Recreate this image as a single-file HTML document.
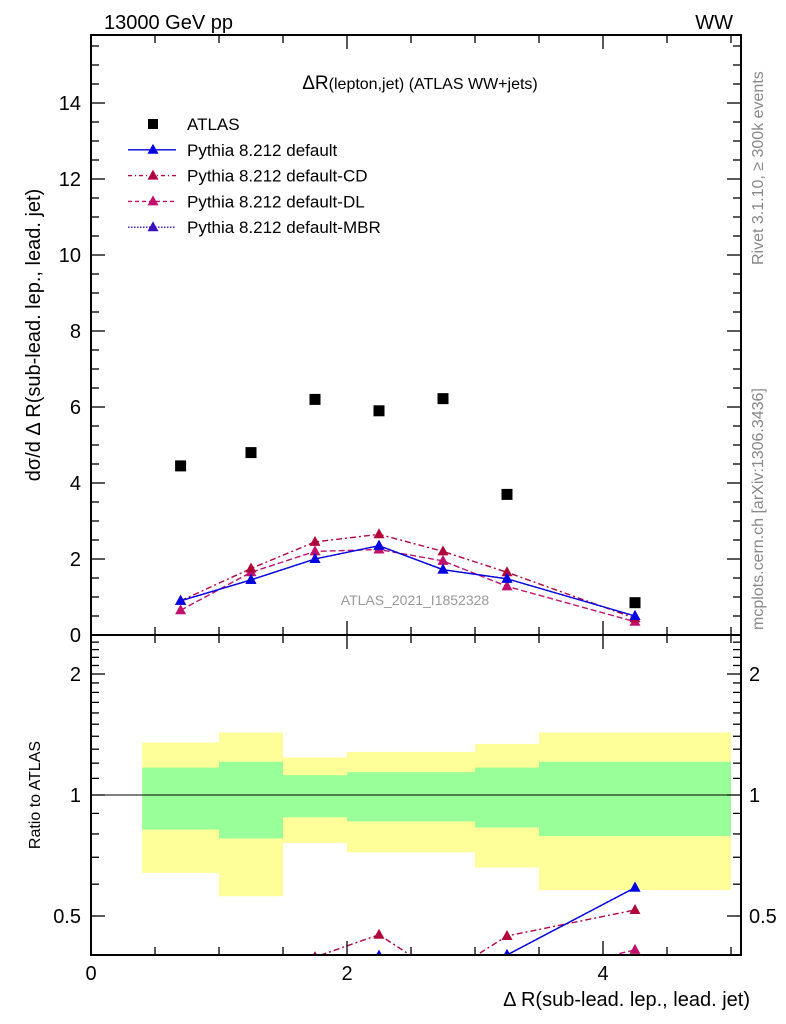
<!DOCTYPE html>
<html><head><meta charset="utf-8"><style>
html,body{margin:0;padding:0;background:#fff;overflow:hidden;}
svg{display:block;}
svg text{font-family:"Liberation Sans",sans-serif;}
</style></head><body>
<svg id="c" xmlns="http://www.w3.org/2000/svg" width="786" height="1024" viewBox="0 0 786 1024">
<rect width="786" height="1024" fill="#fff"/>
<g id="bands"></g>
<g id="marks"></g>
<g id="axes"></g>
<text x="104" y="29" font-size="20">13000 GeV pp</text>
<text x="733" y="29" font-size="20" text-anchor="end">WW</text>
<text x="420" y="89" font-size="19" text-anchor="middle">ΔR<tspan font-size="16">(lepton,jet) (ATLAS WW+jets)</tspan></text>
<text x="415" y="605" font-size="14" fill="#999" text-anchor="middle">ATLAS_2021_I1852328</text>
<text transform="translate(763,265) rotate(-90)" font-size="16" fill="#888">Rivet 3.1.10, ≥ 300k events</text>
<text transform="translate(763,630) rotate(-90)" font-size="16" fill="#888">mcplots.cern.ch [arXiv:1306.3436]</text>
<text transform="translate(40,335) rotate(-90)" font-size="20" text-anchor="middle">dσ/d Δ R(sub-lead. lep., lead. jet)</text>
<text transform="translate(40,795) rotate(-90)" font-size="16" text-anchor="middle">Ratio to ATLAS</text>
<text x="750" y="1006" font-size="20" text-anchor="end">Δ R(sub-lead. lep., lead. jet)</text>
<g id="legend"></g>
</svg>
<script>
const xCenters=[0.7,1.25,1.75,2.25,2.75,3.25,4.25];
const atlas=[4.45,4.8,6.2,5.9,6.22,3.7,0.85];
const pDefault=[0.9,1.45,2.0,2.35,1.72,1.48,0.5];
const pCD=[0.9,1.75,2.45,2.65,2.2,1.65,0.44];
const pDL=[0.65,1.65,2.2,2.25,1.95,1.28,0.35];
const pMBR=[0.9,1.45,2.0,2.35,1.72,1.48,0.5];
const binEdges=[0.4,1.0,1.5,2.0,2.5,3.0,3.5,5.0];
const yellowHi=[1.35,1.43,1.24,1.28,1.28,1.34,1.43];
const yellowLo=[0.64,0.56,0.76,0.72,0.72,0.66,0.58];
const greenHi=[1.17,1.21,1.12,1.14,1.14,1.17,1.21];
const greenLo=[0.82,0.78,0.88,0.86,0.86,0.83,0.79];
const xTicks=[0,2,4];
const yTicks=[0,2,4,6,8,10,12,14];
const rTicks=[0.5,1,2];

const NS="http://www.w3.org/2000/svg";
const X0=91,X1=741,YT=35,YM=635,YB=955;
const sx=v=>X0+v*128;
const sy=v=>YM-v*38;
const sr=v=>795-121*Math.log2(v);
function el(t,a,p){const e=document.createElementNS(NS,t);for(const k in a)e.setAttribute(k,a[k]);p.appendChild(e);return e;}
const bands=document.getElementById('bands'),marks=document.getElementById('marks'),axes=document.getElementById('axes'),legend=document.getElementById('legend');

for(let i=0;i<yellowHi.length;i++){
  const x=sx(binEdges[i]),w=sx(binEdges[i+1])-x;
  const y=el('rect',{x:x,y:sr(yellowHi[i]),width:w,height:sr(yellowLo[i])-sr(yellowHi[i]),fill:'#ffff99'},bands);
  
  
  const g=el('rect',{x:x,y:sr(greenHi[i]),width:w,height:sr(greenLo[i])-sr(greenHi[i]),fill:'#99ff99'},bands);
  
  
}
el('line',{x1:X0,x2:X1,y1:sr(1),y2:sr(1),stroke:'#000','stroke-width':1},bands);

const defs=el('defs',{},document.getElementById('c'));
const cm=el('clipPath',{id:'cm'},defs);el('rect',{x:X0,y:YT,width:X1-X0,height:YM-YT},cm);
const cr=el('clipPath',{id:'cr'},defs);el('rect',{x:X0,y:YM,width:X1-X0,height:YB-YM},cr);

const series=[
 {v:pDL,c:'#c0106c',d:'6,3',n:'default-dl'},
 {v:pCD,c:'#b0063c',d:'6,3,2,3',n:'default-cd'},
 {v:pMBR,c:'#3a10c0',d:'2,2',n:'default-mbr'},
 {v:pDefault,c:'#0000e0',d:'',n:'default'}
];
function tri(x,y,c,p){return el('path',{d:`M${x},${y-6}L${x+5.5},${y+4}L${x-5.5},${y+4}Z`,fill:c},p);}
const gm=el('g',{'clip-path':'url(#cm)'},marks);
const gr=el('g',{'clip-path':'url(#cr)'},marks);
series.forEach(s=>{
  const pts=xCenters.map((x,i)=>sx(x)+','+sy(s.v[i])).join(' ');
  const l=el('polyline',{points:pts,fill:'none',stroke:s.c,'stroke-width':1.4,'stroke-dasharray':s.d},gm);
  
  
  const rp=xCenters.map((x,i)=>sx(x)+','+sr(s.v[i]/atlas[i])).join(' ');
  const rl=el('polyline',{points:rp,fill:'none',stroke:s.c,'stroke-width':1.4,'stroke-dasharray':s.d},gr);
  
  
  xCenters.forEach((x,i)=>{
    const t=tri(sx(x),sy(s.v[i]),s.c,gm);
    
    
    const rt=tri(sx(x),sr(s.v[i]/atlas[i]),s.c,gr);
    
    
  });
});
xCenters.forEach((x,i)=>{
  const r=el('rect',{x:sx(x)-5.5,y:sy(atlas[i])-5.5,width:11,height:11,fill:'#000'},gm);
  
  
});

el('rect',{x:X0,y:YT,width:X1-X0,height:YM-YT,fill:'none',stroke:'#000','stroke-width':2},axes);
el('rect',{x:X0,y:YM,width:X1-X0,height:YB-YM,fill:'none',stroke:'#000','stroke-width':2},axes);
for(let v=0;v<=5.01;v+=0.5){
  const maj=Math.abs(v%2)<0.01, L=maj?14:8, x=sx(v);
  [[YT,1],[YM,-1],[YM,1],[YB,-1]].forEach(([y,d])=>el('line',{x1:x,x2:x,y1:y,y2:y+d*L,stroke:'#000','stroke-width':1.3},axes));
}
xTicks.forEach(v=>{const t=el('text',{x:sx(v),y:980,'font-size':20,'text-anchor':'middle'},axes);t.textContent=v;
 });
for(let v=0;v<=15.8;v+=0.5){
  const maj=Math.abs(v%2)<0.01,L=maj?14:8,y=sy(v);
  el('line',{x1:X0,x2:X0+L,y1:y,y2:y,stroke:'#000','stroke-width':1.3},axes);
  el('line',{x1:X1,x2:X1-L,y1:y,y2:y,stroke:'#000','stroke-width':1.3},axes);
}
yTicks.forEach(v=>{const t=el('text',{x:81,y:sy(v)+7,'font-size':20,'text-anchor':'end'},axes);t.textContent=v;
 });
[0.5,0.6,0.7,0.8,0.9,1,1.1,1.2,1.3,1.4,1.5,1.6,1.7,1.8,1.9,2,2.1,2.2,2.3,2.4].forEach(v=>{
  const maj=rTicks.includes(v),L=maj?14:8,y=sr(v);
  el('line',{x1:X0,x2:X0+L,y1:y,y2:y,stroke:'#000','stroke-width':1.3},axes);
  el('line',{x1:X1,x2:X1-L,y1:y,y2:y,stroke:'#000','stroke-width':1.3},axes);
});
rTicks.forEach(v=>{
  const t=el('text',{x:81,y:sr(v)+7,'font-size':20,'text-anchor':'end'},axes);t.textContent=v;
  
  const t2=el('text',{x:749,y:sr(v)+7,'font-size':20},axes);t2.textContent=v;
  
});

const leg=[['ATLAS',null,'#000',''],['Pythia 8.212 default','l','#0000e0',''],['Pythia 8.212 default-CD','l','#b0063c','4,3,1,3'],['Pythia 8.212 default-DL','l','#c0106c','4,3'],['Pythia 8.212 default-MBR','l','#3a10c0','1.5,1.5']];
leg.forEach((e,i)=>{
  const y=124+i*25.8;
  const g=el('g',{},legend);
  
  
  if(!e[1]) el('rect',{x:148,y:y-5,width:10,height:10,fill:'#000'},g);
  else{el('line',{x1:128,x2:176,y1:y,y2:y,stroke:e[2],'stroke-width':1.4,'stroke-dasharray':e[3]},g);tri(153,y,e[2],g);}
  const t=el('text',{x:187,y:y+6,'font-size':17},g);t.textContent=e[0];
});
</script>
</body></html>
